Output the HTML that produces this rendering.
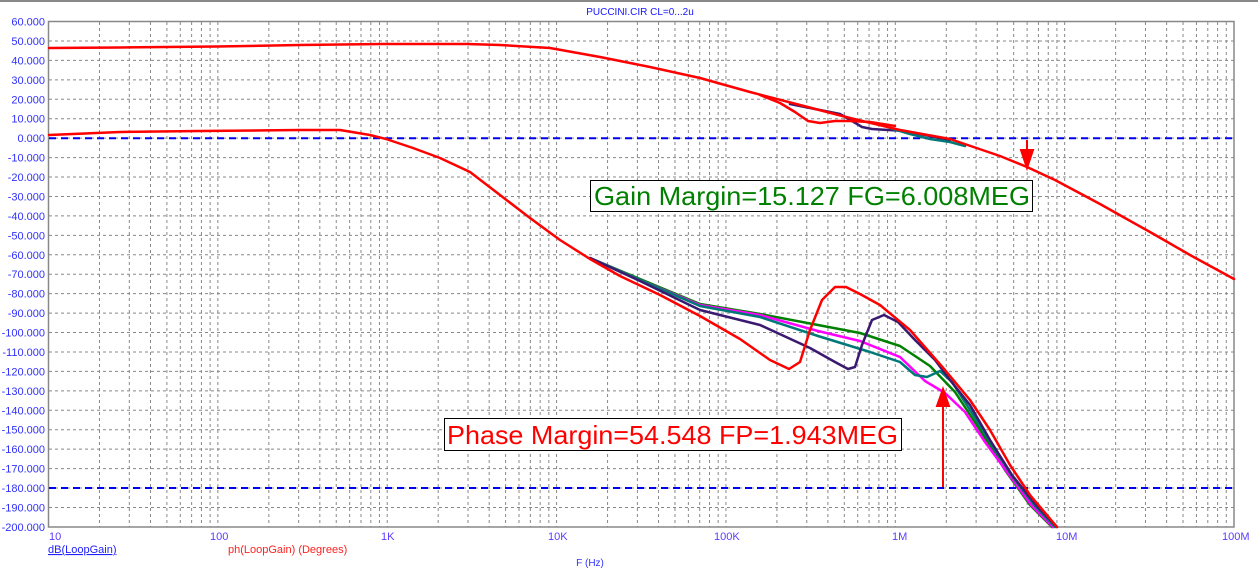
<!DOCTYPE html>
<html><head><meta charset="utf-8"><style>
html,body{margin:0;padding:0;background:#fff;}
svg{display:block;font-family:"Liberation Sans",sans-serif;}
</style></head><body>
<svg width="1258" height="574" viewBox="0 0 1258 574" xmlns="http://www.w3.org/2000/svg">
<rect width="1258" height="574" fill="#fff"/>
<line x1="0" y1="1" x2="1258" y2="1" stroke="#888" stroke-width="2"/>
<text x="640" y="15" font-size="10" fill="#1515ff" text-anchor="middle">PUCCINI.CIR CL=0...2u</text>
<g id="g2"></g>
<rect x="48.5" y="21.5" width="1185.5" height="505.5" fill="none" stroke="#888" stroke-width="1.5"/>
<g font-size="11" fill="#3030ff" text-anchor="end" id="ylab"></g>
<g font-size="11" fill="#5a3cff">
<text x="49" y="540">10</text><text x="210" y="540">100</text><text x="381" y="540">1K</text>
<text x="548" y="540">10K</text><text x="714" y="540">100K</text><text x="892" y="540">1M</text>
<text x="1056" y="540">10M</text><text x="1222" y="540">100M</text>
</g>
<text x="48" y="553" font-size="11" fill="#2020ff" text-decoration="underline">dB(LoopGain)</text>
<text x="228" y="553" font-size="11" fill="#ff2020">ph(LoopGain) (Degrees)</text>
<text x="590" y="566" font-size="10" fill="#3030ff" text-anchor="middle">F (Hz)</text>
<line x1="49" y1="138.2" x2="1234" y2="138.2" stroke="#0000ee" stroke-width="2" stroke-dasharray="7,5"/>
<line x1="49" y1="488" x2="1234" y2="488" stroke="#0000ee" stroke-width="2" stroke-dasharray="7,5"/>
<g fill="none" stroke-width="2.5" stroke-linejoin="round" stroke-linecap="round">
<polyline stroke="#3a1a70" points="790,104 820,110 840,114 852,121 862,127 872,129 905,131 930,136 950,140"/>
<polyline stroke="#007878" points="890,128 910,134 930,139 950,142 965,146"/>
<polyline stroke="#ff0000" points="760,95 780,103 795,112 808,121 820,123 835,121 850,121 870,122 895,126"/>
<polyline stroke="#ff0000" points="49,48 120,47.5 217,46.5 300,45 386,44 467,44 500,45 550,48 600,57 650,67 700,78 750,92 800,105 850,118 900,130 950,139 1000,156 1027,167 1055,180 1100,204 1150,232 1190,255 1234,279"/>
</g>
<g fill="none" stroke-width="2.5" stroke-linejoin="round" stroke-linecap="round">
<polyline stroke="#008000" points="590,258 640,279 700,304 760,314 818,325 860,333 900,346 930,366 955,392 980,430 1005,470 1030,505 1052,527"/>
<polyline stroke="#ff00ff" points="590,258 640,280 700,305 760,315 818,331 860,341 900,357 925,381 945,393 965,412 985,442 1010,476 1032,506 1053,527"/>
<polyline stroke="#007878" points="590,258 640,280 700,306 760,317 818,336 870,352 900,362 915,375 927,377 940,371 952,382 970,410 990,442 1012,476 1035,506 1055,527"/>
<polyline stroke="#3a1a70" points="590,258 640,281 700,310 760,325 810,348 835,362 848,369 855,367 862,345 872,320 884,315 898,322 915,340 935,360 950,380 970,405 990,440 1012,475 1036,505 1057,527"/>
<polyline stroke="#ff0000" points="49,135 120,132 200,131 300,130 340,130 370,135 386,139 413,148 440,158 470,172 500,195 530,218 560,240 590,259 620,276 660,295 700,316 740,339 770,360 789,369 800,362 810,330 822,300 835,287 846,287 860,294 880,305 910,330 945,370 970,400 990,430 1010,465 1030,495 1057,527"/>
</g>
<g stroke="#ff0000" stroke-width="2" fill="#ff0000">
<line x1="1027" y1="140" x2="1027" y2="162"/><polygon points="1021,150 1033,150 1027,168"/>
<line x1="943" y1="487" x2="943" y2="395"/><polygon points="937,406 949,406 943,389"/>
</g>
<rect x="590.5" y="180.5" width="442" height="31" fill="#fff" stroke="#000" stroke-width="1"/>
<text x="594" y="205" font-size="26" fill="#008000" textLength="436" lengthAdjust="spacingAndGlyphs">Gain Margin=15.127 FG=6.008MEG</text>
<rect x="444.5" y="418.5" width="457" height="32" fill="#fff" stroke="#000" stroke-width="1"/>
<text x="447" y="444" font-size="26" fill="#ff0000" textLength="451" lengthAdjust="spacingAndGlyphs">Phase Margin=54.548 FP=1.943MEG</text>
<script>
var ns="http://www.w3.org/2000/svg",g=document.getElementById("g2"),yl=document.getElementById("ylab");
function L(x1,y1,x2,y2){var l=document.createElementNS(ns,"line");l.setAttribute("x1",x1);l.setAttribute("y1",y1);l.setAttribute("x2",x2);l.setAttribute("y2",y2);l.setAttribute("stroke","#888");l.setAttribute("stroke-dasharray","3,3");g.appendChild(l);}
for(var d=0;d<7;d++)for(var k=1;k<10;k++){var x=48.5+169.36*(d+Math.log10(k));if(x>49&&x<1234)L(x,22,x,527);}
for(var i=0;i<=26;i++){var y=21.5+i*19.44;if(i>0&&i<26)L(49,y,1234,y);var t=document.createElementNS(ns,"text");t.setAttribute("x",45);t.setAttribute("y",y+4);t.textContent=(60-10*i).toFixed(3);yl.appendChild(t);}
</script>
</svg>
</body></html>
